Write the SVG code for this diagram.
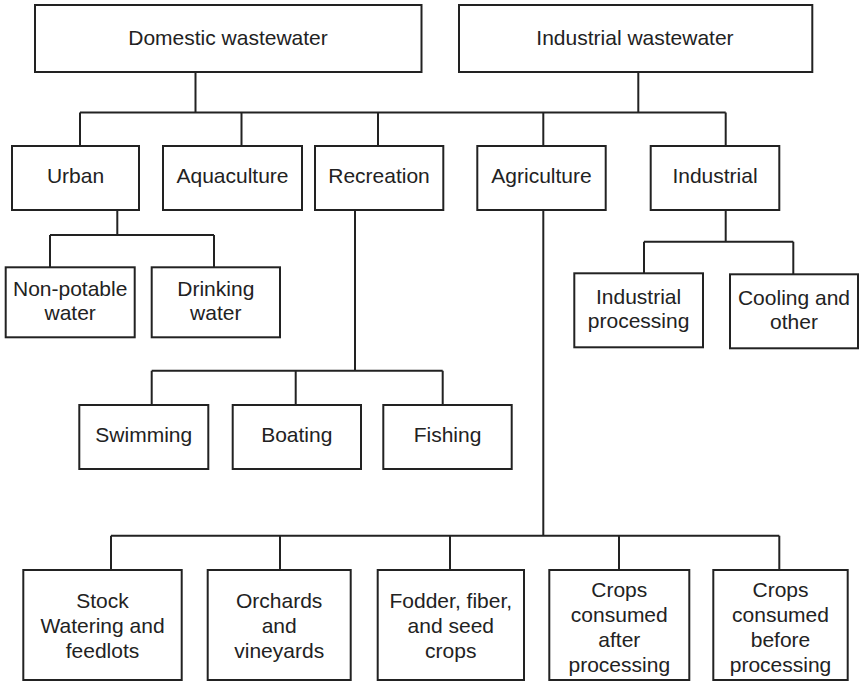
<svg xmlns="http://www.w3.org/2000/svg" width="859" height="683" viewBox="0 0 859 683">
  <style>
    .box { fill: #ffffff; stroke: #222222; stroke-width: 2; }
    .wire { fill: none; stroke: #222222; stroke-width: 2; }
    .label { font-family: "Liberation Sans", Arial, Helvetica, sans-serif; font-size: 21px; fill: #222222; text-anchor: middle; }
  </style>
  <rect width="859" height="683" fill="#ffffff"/>

  <!-- connectors -->
  <g id="connectors" class="wire">
    <path d="M195.5 72 V112.5 M638.3 72 V112.5 M80 112.5 H725.7"/>
    <path d="M80 112.5 V146 M241.5 112.5 V146 M378 112.5 V146 M543.3 112.5 V146 M725.7 112.5 V146"/>
    <!-- urban -->
    <path d="M117.3 210 V235 M50 235 H214 M50 235 V267.3 M214 235 V267.3"/>
    <!-- recreation -->
    <path d="M355 210 V370.7 M151.7 370.7 H442.7 M151.7 370.7 V405 M295.7 370.7 V405 M442.7 370.7 V405"/>
    <!-- industrial -->
    <path d="M725.7 210 V241.7 M644 241.7 H793.3 M644 241.7 V273.3 M793.3 241.7 V274.3"/>
    <!-- agriculture -->
    <path d="M543.3 210 V535.7 M111 535.7 H779.3 M111 535.7 V570 M280 535.7 V570 M450 535.7 V570 M619 535.7 V570 M779.3 535.7 V570"/>
  </g>

  <!-- sources -->
  <g id="domestic">
    <rect class="box" x="35" y="5" width="386.5" height="67"/>
    <text class="label" x="228" y="44.5">Domestic wastewater</text>
  </g>
  <g id="industrial-ww">
    <rect class="box" x="459" y="5" width="353.3" height="67"/>
    <text class="label" x="635" y="44.5">Industrial wastewater</text>
  </g>

  <!-- reuse categories -->
  <g id="urban">
    <rect class="box" x="12" y="146" width="127" height="64"/>
    <text class="label" x="75.5" y="183">Urban</text>
  </g>
  <g id="aquaculture">
    <rect class="box" x="163" y="146" width="139" height="64"/>
    <text class="label" x="232.5" y="183">Aquaculture</text>
  </g>
  <g id="recreation">
    <rect class="box" x="315" y="146" width="128.3" height="64"/>
    <text class="label" x="379" y="183">Recreation</text>
  </g>
  <g id="agriculture">
    <rect class="box" x="477.3" y="146" width="128.4" height="64"/>
    <text class="label" x="541.5" y="183">Agriculture</text>
  </g>
  <g id="industrial">
    <rect class="box" x="650.7" y="146" width="128.6" height="64"/>
    <text class="label" x="715" y="183">Industrial</text>
  </g>

  <!-- urban uses -->
  <g id="non-potable">
    <rect class="box" x="5.7" y="267.3" width="129" height="70"/>
    <text class="label" x="70.2" y="296">Non-potable</text>
    <text class="label" x="70.2" y="320">water</text>
  </g>
  <g id="drinking">
    <rect class="box" x="151.7" y="267.3" width="128.3" height="70"/>
    <text class="label" x="215.8" y="296">Drinking</text>
    <text class="label" x="215.8" y="320">water</text>
  </g>

  <!-- industrial uses -->
  <g id="industrial-processing">
    <rect class="box" x="574.3" y="273.3" width="128.7" height="74"/>
    <text class="label" x="638.6" y="304">Industrial</text>
    <text class="label" x="638.6" y="328">processing</text>
  </g>
  <g id="cooling">
    <rect class="box" x="730" y="274.3" width="128" height="74"/>
    <text class="label" x="794" y="305">Cooling and</text>
    <text class="label" x="794" y="329">other</text>
  </g>

  <!-- recreation uses -->
  <g id="swimming">
    <rect class="box" x="79.3" y="405" width="129" height="64"/>
    <text class="label" x="143.8" y="442">Swimming</text>
  </g>
  <g id="boating">
    <rect class="box" x="232.7" y="405" width="128.3" height="64"/>
    <text class="label" x="296.8" y="442">Boating</text>
  </g>
  <g id="fishing">
    <rect class="box" x="383.3" y="405" width="128.4" height="64"/>
    <text class="label" x="447.5" y="442">Fishing</text>
  </g>

  <!-- agricultural uses -->
  <g id="stock">
    <rect class="box" x="23.3" y="570" width="158.4" height="110"/>
    <text class="label" x="102.5" y="608">Stock</text>
    <text class="label" x="102.5" y="633">Watering and</text>
    <text class="label" x="102.5" y="658">feedlots</text>
  </g>
  <g id="orchards">
    <rect class="box" x="207.7" y="570" width="143" height="110"/>
    <text class="label" x="279.2" y="608">Orchards</text>
    <text class="label" x="279.2" y="633">and</text>
    <text class="label" x="279.2" y="658">vineyards</text>
  </g>
  <g id="fodder">
    <rect class="box" x="377.7" y="570" width="146.3" height="110"/>
    <text class="label" x="450.8" y="608">Fodder, fiber,</text>
    <text class="label" x="450.8" y="633">and seed</text>
    <text class="label" x="450.8" y="658">crops</text>
  </g>
  <g id="crops-after">
    <rect class="box" x="549.3" y="570" width="140" height="110"/>
    <text class="label" x="619.3" y="597">Crops</text>
    <text class="label" x="619.3" y="622">consumed</text>
    <text class="label" x="619.3" y="647">after</text>
    <text class="label" x="619.3" y="672">processing</text>
  </g>
  <g id="crops-before">
    <rect class="box" x="713.3" y="570" width="134.4" height="110"/>
    <text class="label" x="780.5" y="597">Crops</text>
    <text class="label" x="780.5" y="622">consumed</text>
    <text class="label" x="780.5" y="647">before</text>
    <text class="label" x="780.5" y="672">processing</text>
  </g>
</svg>
